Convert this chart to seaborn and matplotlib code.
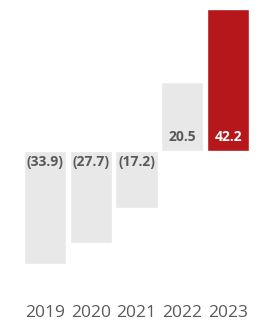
import matplotlib
matplotlib.use("Agg")
import matplotlib.pyplot as plt
import seaborn as sns
import pandas as pd

years = ["2019", "2020", "2021", "2022", "2023"]
values = [-33.9, -27.7, -17.2, 20.5, 42.2]
labels = ["(33.9)", "(27.7)", "(17.2)", "20.5", "42.2"]
bar_colors = ["#e8e8e8", "#e8e8e8", "#e8e8e8", "#e8e8e8", "#b5171a"]
text_colors = ["#595959", "#595959", "#595959", "#595959", "#ffffff"]

sns.set_style("white")
plt.rcParams["font.family"] = ["Open Sans", "DejaVu Sans"]

df = pd.DataFrame({"year": years, "value": values})

fig = plt.figure(figsize=(2.69, 3.24), dpi=100)
ax = fig.add_axes([0.0823, 0.1358, 0.8506, 0.864])
sns.barplot(data=df, x="year", y="value", hue="year", palette=bar_colors,
            width=0.92, legend=False, ax=ax, saturation=1)

ax.set_xlim(-0.5, 4.5)
ax.set_ylim(-38.62, 44.88)
ax.set_xlabel("")
ax.set_ylabel("")
ax.set_yticks([])
ax.tick_params(axis="x", length=0, pad=18, labelsize=12.5, labelcolor="#595959")
for s in ax.spines.values():
    s.set_visible(False)

for i, (v, lab) in enumerate(zip(values, labels)):
    if v < 0:
        ax.annotate(lab, (i, 0), xytext=(0, -3), textcoords="offset points",
                    ha="center", va="top", fontsize=10, fontweight="bold",
                    color=text_colors[i])
    else:
        ax.annotate(lab, (i, 0), xytext=(0, 5), textcoords="offset points",
                    ha="center", va="bottom", fontsize=10, fontweight="bold",
                    color=text_colors[i])

fig.savefig("out.png", dpi=100)
